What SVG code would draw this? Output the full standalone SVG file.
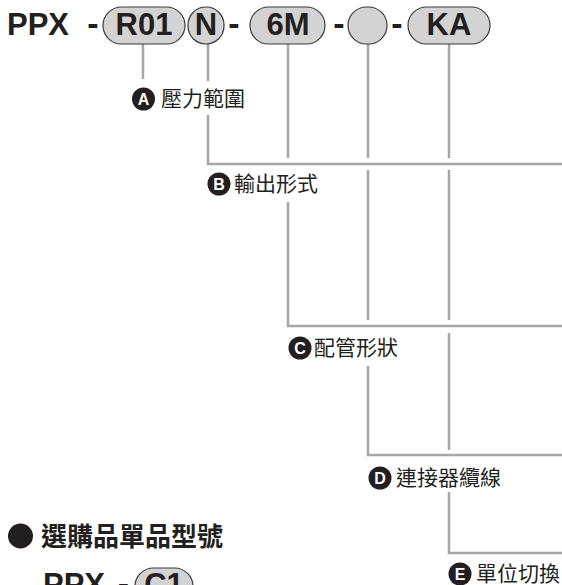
<svg xmlns="http://www.w3.org/2000/svg" width="562" height="585" viewBox="0 0 562 585">
<style>
.code{font-family:"Liberation Sans",Arial,sans-serif;font-weight:bold;font-size:31px;fill:#231f20}
.dash{font-family:"Liberation Sans",Arial,sans-serif;font-weight:bold;font-size:34px;fill:#231f20;text-anchor:middle}
.pill{fill:#d3d3d3;stroke:#3a3a3a;stroke-width:1.2}
.ln{fill:none;stroke:#a6a6a8;stroke-width:2.5}
.badge{fill:#231f20}
.bl{font-family:"Liberation Sans",Arial,sans-serif;font-weight:bold;font-size:16px;fill:#fff;text-anchor:middle}
.lab{font-family:"Noto Sans CJK TC","Noto Sans CJK SC",sans-serif;font-size:21px;fill:#231f20}
.hd{font-family:"Noto Sans CJK TC","Noto Sans CJK SC",sans-serif;font-weight:bold;font-size:26px;fill:#231f20}
</style>
<rect width="562" height="585" fill="#fff"/>
<g id="connectors">
<path class="ln" d="M143,44 V79"/>
<path class="ln" d="M208,44 V81 M208,115 V164 H562"/>
<path class="ln" d="M288,44 V158 M288,202 V326 H562"/>
<path class="ln" d="M368,44 V158 M368,170 V320 M368,366 V455 H562"/>
<path class="ln" d="M449,44 V158 M449,170 V320 M449,333 V450 M449,492 V553 H562"/>
</g>
<g id="model-code">
<text class="code" x="7" y="34.5">PPX</text>
<text class="dash" x="93" y="34.5">-</text>
<text class="dash" x="234" y="34.5">-</text>
<text class="dash" x="339" y="34.5">-</text>
<text class="dash" x="397" y="34.5">-</text>
</g>
<g id="node-r01">
<rect class="pill" x="103" y="7" width="82" height="37" rx="18.5"/>
<text class="code" x="144" y="34.5" text-anchor="middle">R01</text>
</g>
<g id="node-n">
<rect class="pill" x="188" y="7" width="36" height="37" rx="18"/>
<text class="code" x="206" y="34.5" text-anchor="middle">N</text>
</g>
<g id="node-6m">
<rect class="pill" x="250" y="7" width="75" height="37" rx="18.5"/>
<text class="code" x="288" y="34.5" text-anchor="middle">6M</text>
</g>
<g id="node-blank">
<rect class="pill" x="348" y="7" width="39" height="37" rx="18.5"/>
</g>
<g id="node-ka">
<rect class="pill" x="408" y="7" width="82" height="37" rx="18.5"/>
<text class="code" x="449" y="34.5" text-anchor="middle">KA</text>
</g>
<g id="label-a">
<circle class="badge" cx="143.5" cy="99" r="11.5"/>
<text class="bl" x="143.5" y="104.8">A</text>
<text class="lab" x="161" y="106">壓力範圍</text>
</g>
<g id="label-b">
<circle class="badge" cx="219" cy="184" r="11.5"/>
<text class="bl" x="219" y="189.8">B</text>
<text class="lab" x="234" y="191">輸出形式</text>
</g>
<g id="label-c">
<circle class="badge" cx="300" cy="348" r="11.5"/>
<text class="bl" x="300" y="353.8">C</text>
<text class="lab" x="314" y="355">配管形狀</text>
</g>
<g id="label-d">
<circle class="badge" cx="380" cy="478" r="11.5"/>
<text class="bl" x="380" y="483.8">D</text>
<text class="lab" x="396" y="485">連接器纜線</text>
</g>
<g id="label-e">
<circle class="badge" cx="460" cy="574" r="11.5"/>
<text class="bl" x="460" y="579.8">E</text>
<text class="lab" x="476" y="581">單位切換</text>
</g>
<g id="option-heading">
<circle class="badge" cx="20.5" cy="536" r="12.5"/>
<text class="hd" x="41" y="546">選購品單品型號</text>
</g>
<g id="option-code">
<text class="code" x="43" y="594.5">PPX</text>
<text class="dash" x="123.5" y="594.5">-</text>
<rect class="pill" x="135" y="568" width="58" height="37" rx="18.5"/>
<text class="code" x="164" y="594.5" text-anchor="middle">C1</text>
</g>
</svg>
